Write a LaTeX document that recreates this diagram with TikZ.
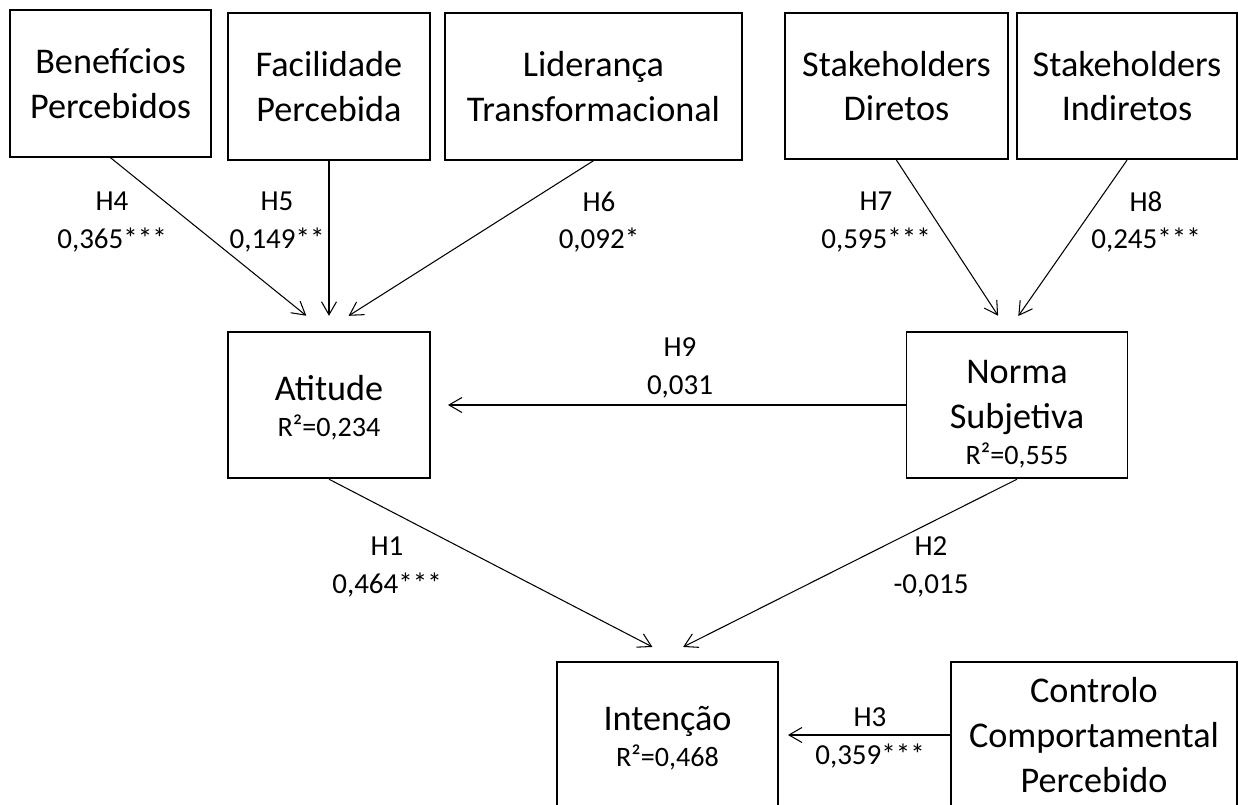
\documentclass[tikz,border=0pt]{standalone}
\usepackage{fontspec}
\setmainfont{Carlito}
\usetikzlibrary{arrows.meta,calc}

\newcommand\rsquared[1]{{\fontsize{16}{20}\selectfont R²=#1}}

\begin{document}
\begin{tikzpicture}[
x=0.02cm, y=-0.02cm,
box/.style={draw,line width=1.1pt,minimum height=2.93cm,inner sep=0pt,align=center,font=\fontsize{20.6}{25.5}\selectfont},
lbl/.style={align=center,inner sep=0pt,font=\fontsize{16.5}{21.5}\selectfont},
link/.style={-{Straight Barb[length=0.26cm,width=0.3cm]},line width=0.6pt}
]
\clip (0,0) rectangle (1238,805);

\node[box,minimum width=4.02cm] (bp) at (110.5,83.5) {Benefícios\\Percebidos};
\node[box,minimum width=4.04cm] (fp) at (329,86.5) {Facilidade\\Percebida};
\node[box,minimum width=5.94cm] (lt) at (593.5,86.5) {Liderança\\Transformacional};
\node[box,minimum width=4.46cm] (sd) at (896.5,86) {Stakeholders\\Diretos};
\node[box,minimum width=4.4cm] (si) at (1127,86) {Stakeholders\\Indiretos};

\node[box,minimum width=4.04cm] (att) at (329,405) {\rule{0pt}{17pt}Atitude\\[-5pt]\rsquared{0,234}};
\node[box,minimum width=4.42cm] (ns) at (1017,405) {\rule{0pt}{24pt}Norma\\Subjetiva\\[-5pt]\rsquared{0,555}};
\node[box,minimum width=4.42cm] (int) at (667.5,735) {\rule{0pt}{17pt}Intenção\\[-5pt]\rsquared{0,468}};
\node[box,minimum width=5.72cm] (cc) at (1094,735) {Controlo\\Comportamental\\Percebido};

\draw[link,shorten >=0.48cm] (bp.south) -- ($(att.north)+(-4,0)$);
\draw[link,shorten >=0.3cm] (fp.south) -- (att.north);
\draw[link,shorten >=0.56cm] (lt.south) -- ($(att.north)+(-4,0)$);
\draw[link,shorten >=0.36cm] (sd.south) -- ($(ns.north)+(-9,0)$);
\draw[link,shorten >=0.36cm] (si.south) -- ($(ns.north)+(-9,0)$);
\draw[link,shorten >=0.34cm] (ns.west) -- (att.east);
\draw[link,shorten >=0.34cm] (att.south) -- ($(int.north)+(0,-6)$);
\draw[link,shorten >=0.35cm] (ns.south) -- ($(int.north)+(0,-6)$);
\draw[link,shorten >=0.18cm] (cc.west) -- (int.east);

\node[lbl] (h4) at (112,222) {H4\\0,365***};
\node[lbl] (h5) at (277,222) {H5\\0,149**};
\node[lbl] (h6) at (599,222) {H6\\0,092*};
\node[lbl] (h7) at (876,222) {H7\\0,595***};
\node[lbl] (h8) at (1146,222) {H8\\0,245***};
\node[lbl] (h9) at (680,368) {H9\\0,031};
\node[lbl] (h1) at (387,567) {H1\\0,464***};
\node[lbl] (h2) at (931,567) {H2\\-0,015};
\node[lbl] (h3) at (870,738) {H3\\0,359***};
\end{tikzpicture}
\end{document}
